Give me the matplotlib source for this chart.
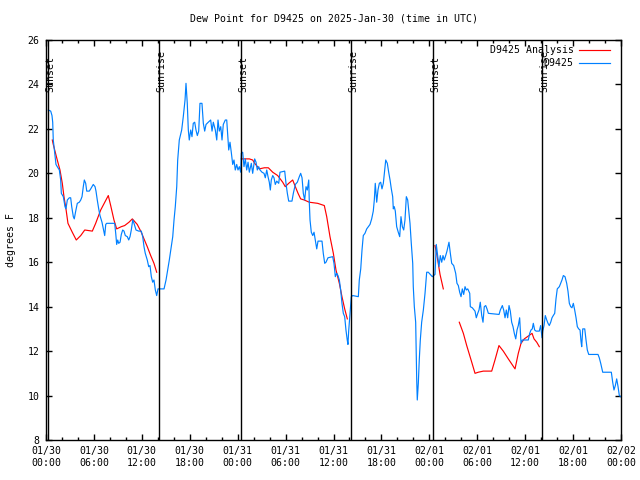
import numpy as np
import matplotlib
matplotlib.use("Agg")
import matplotlib.pyplot as plt
import matplotlib.transforms as mtransforms
from matplotlib.lines import Line2D

# ---------------- data (hours since 01/30 00:00 UTC, degrees F) ----------------
blue_h = [0.29, 0.59, 0.75, 0.84, 0.91, 1.09, 1.25, 1.41, 1.67, 1.84, 1.92, 2.17, 2.38, 2.50, 2.67,
          2.92, 3.09, 3.22, 3.42, 3.54, 3.72, 3.92, 4.17, 4.35, 4.51, 4.67, 4.80, 4.97, 5.10, 5.42,
          5.60, 5.92, 6.14, 6.26, 6.42, 6.60, 6.76, 7.01, 7.18, 7.35, 7.48, 7.60, 8.60, 8.73, 8.85,
          8.98, 9.10, 9.27, 9.43, 9.60, 9.77, 9.93, 10.18, 10.36, 10.52, 10.68, 10.86, 11.02, 11.27,
          11.61, 11.93, 12.11, 12.27, 12.43, 12.68, 12.86, 13.02, 13.19, 13.36, 13.52, 13.69, 13.86,
          14.02, 14.78, 15.03, 15.19, 15.44, 15.69, 15.87, 16.03, 16.19, 16.37, 16.49, 16.69, 16.99,
          17.19, 17.41, 17.53, 17.69, 17.82, 17.94, 18.12, 18.28, 18.44, 18.62, 18.78, 18.95, 19.12,
          19.28, 19.53, 19.70, 19.87, 20.04, 20.32, 20.62, 20.79, 20.95, 21.20, 21.38, 21.54, 21.70,
          21.88, 22.04, 22.20, 22.45, 22.63, 22.79, 22.88, 23.04, 23.20, 23.38, 23.54, 23.70, 23.88,
          24.04, 24.21, 24.38, 24.46, 24.63, 24.79, 24.96, 25.13, 25.30, 25.46, 25.71, 25.88, 26.13,
          26.30, 26.46, 26.63, 26.80, 27.05, 27.30, 27.46, 27.64, 27.80, 27.96, 28.09, 28.21, 28.39,
          28.55, 28.71, 28.89, 29.14, 29.30, 29.89, 30.05, 30.22, 30.39, 30.80, 30.97, 31.22, 31.47,
          31.72, 31.89, 32.06, 32.22, 32.39, 32.56, 32.72, 32.90, 32.97, 33.06, 33.22, 33.40, 33.56,
          33.72, 33.90, 34.06, 34.56, 34.72, 34.90, 35.06, 35.31, 35.90, 36.06, 36.23, 36.40, 36.56,
          36.73, 36.90, 37.06, 37.23, 37.40, 37.56, 37.72, 37.81, 37.90, 38.07, 38.16, 38.23, 38.41,
          39.11, 39.23, 39.41, 39.57, 39.73, 39.94, 40.16, 40.36, 40.57, 40.78, 40.98, 41.11, 41.23,
          41.41, 41.57, 41.74, 41.91, 42.07, 42.24, 42.41, 42.54, 42.74, 42.91, 43.08, 43.24, 43.41,
          43.49, 43.61, 43.74, 43.91, 44.11, 44.29, 44.45, 44.62, 44.79, 44.95, 45.12, 45.29, 45.42,
          45.58, 45.74, 45.92, 45.99, 46.12, 46.29, 46.42, 46.49, 46.62, 46.74, 46.87, 47.04, 47.25,
          47.46, 47.67, 47.87, 48.37, 48.71, 48.87, 49.05, 49.21, 49.37, 49.55, 49.71, 49.87, 50.05,
          50.21, 50.46, 50.63, 50.80, 51.05, 51.30, 51.46, 51.63, 51.80, 51.97, 52.13, 52.30, 52.47,
          52.63, 52.81, 53.06, 53.13, 53.38, 53.72, 53.88, 54.06, 54.22, 54.38, 54.56, 54.72, 54.88,
          55.06, 55.22, 55.39, 56.73, 56.89, 57.14, 57.31, 57.48, 57.64, 57.81, 57.98, 58.14, 58.31,
          58.48, 58.64, 58.82, 58.98, 59.14, 59.31, 59.48, 59.64, 60.39, 60.57, 60.73, 60.89, 61.02,
          61.19, 61.36, 61.77, 61.94, 62.11, 62.20, 62.36, 62.52, 62.70, 62.86, 63.02, 63.20, 63.36,
          63.52, 63.70, 63.86, 64.02, 64.28, 64.45, 64.61, 64.78, 64.99, 65.20, 65.36, 65.53, 65.70,
          65.86, 66.03, 66.20, 66.37, 66.53, 66.70, 66.87, 66.99, 67.08, 67.21, 67.46, 67.62, 67.78,
          67.96, 69.12, 69.28, 69.46, 69.62, 69.71, 70.79, 70.96, 71.12, 71.29, 71.46, 71.63, 71.79,
          71.97]
blue_v = [22.85, 22.8, 22.6, 22.3, 21.5, 20.9, 20.4, 20.3, 20.15, 19.7, 19.1, 18.95, 18.5, 18.4, 18.8,
          18.9, 18.9, 18.5, 18.05, 17.95, 18.3, 18.65, 18.7, 18.8, 18.95, 19.4, 19.7, 19.55, 19.2, 19.2,
          19.3, 19.5, 19.4, 19.2, 18.8, 18.4, 18.1, 17.8, 17.5, 17.2, 17.7, 17.75, 17.75, 17.3, 16.8,
          17.0, 16.85, 16.9, 17.25, 17.45, 17.4, 17.2, 17.15, 17.0, 17.15, 17.45, 17.9, 17.75, 17.45,
          17.4, 17.4, 17.15, 16.7, 16.4, 16.1, 15.8, 15.85, 15.35, 15.1, 15.2, 14.75, 14.5,
          14.8, 14.8, 15.2, 15.55, 16.1, 16.7, 17.15, 17.9, 18.5, 19.4, 20.6, 21.5, 21.95,
          22.55, 23.3, 24.05, 23.15, 21.95, 21.5, 21.95, 21.65, 22.25, 22.3, 21.95, 21.7, 21.9,
          23.15, 23.15, 22.25, 21.9, 22.2, 22.3, 22.4, 21.9, 22.3, 21.95, 21.5, 22.4, 21.9,
          22.1, 21.5, 22.2, 22.4, 22.4, 21.5, 21.05, 21.4, 20.95, 20.4, 20.6, 20.15, 20.4,
          20.15, 20.3, 20.05, 20.9, 20.95, 20.3, 20.65, 20.15, 20.5, 20.05, 20.45, 20.0, 20.65,
          20.5, 20.15, 20.3, 20.15, 20.05, 20.0, 19.8, 20.15, 19.85, 19.6, 19.25, 19.7, 19.9,
          19.8, 19.5, 19.65, 19.55, 20.05, 20.1, 19.55, 19.1, 18.75, 18.75, 19.1, 19.5, 19.6,
          19.85, 20.0, 19.8, 19.1, 18.8, 19.4, 19.25, 19.7, 18.7, 17.9, 17.35, 17.2, 17.35,
          17.0, 16.6, 16.95, 16.95, 16.4, 15.95, 16.0, 16.2, 16.25, 15.95, 15.35, 15.5, 15.4,
          15.2, 14.75, 14.15, 13.7, 13.55, 12.95, 12.5, 12.3, 12.9, 13.7, 14.15, 14.45, 14.5,
          14.45, 15.2, 15.7, 16.55, 17.2, 17.3, 17.5, 17.6, 17.7, 17.95, 18.3, 18.8, 19.55,
          18.7, 19.25, 19.55, 19.6, 19.3, 19.55, 20.15, 20.6, 20.45, 20.05, 19.7, 19.3, 18.95,
          18.4, 18.5, 18.3, 17.6, 17.35, 17.15, 18.05, 17.6, 17.45, 17.9, 18.95, 18.8, 18.35,
          17.75, 16.85, 15.95, 14.9, 14.0, 13.3, 10.7, 9.8, 10.55, 11.6, 12.5, 13.3, 13.85,
          14.6, 15.55, 15.55, 15.35, 15.45, 16.8, 16.25, 15.8, 16.3, 16.0, 16.3, 16.1, 16.3,
          16.5, 16.9, 16.4, 15.95, 15.85, 15.5, 15.05, 14.95, 14.65, 14.45, 14.8, 14.55, 14.9,
          14.75, 14.8, 14.6, 14.0, 13.95, 13.8, 13.5, 13.7, 13.85, 14.2, 13.6, 13.3, 14.0,
          14.05, 13.9, 13.7, 13.65, 13.85, 14.05, 13.85, 13.5, 13.85, 13.5, 14.05, 13.8, 13.3,
          13.1, 12.8, 12.55, 12.95, 13.15, 13.5, 12.35, 12.5, 12.5, 12.8, 12.95, 13.0, 13.25,
          12.95, 12.9, 12.9, 13.15, 12.6, 12.9, 13.15, 13.6, 13.4, 13.25, 13.15, 13.3, 13.5,
          13.6, 13.7, 14.35, 14.8, 14.9, 15.05, 15.2, 15.4, 15.35, 15.05, 14.7, 14.15, 14.0,
          13.95, 14.15, 13.85, 13.5, 13.1, 13.0, 12.95, 12.45, 12.2, 13.0, 13.0, 12.5, 12.05,
          11.85, 11.85, 11.7, 11.45, 11.2, 11.05, 11.05, 10.6, 10.25, 10.45, 10.75, 10.4, 10.0,
          9.95]

nan = float("nan")
red_h = [0.79, 0.91, 1.16, 1.41, 1.75, 2.04, 2.25, 2.50, 2.75, 3.29, 3.79, 4.35, 4.85, 5.80, 6.22,
         6.85, 7.80, 8.10, 8.51, 8.85, 9.43, 9.85, 10.39, 10.81, 11.43, 11.93, 12.27, 12.68, 13.11,
         13.52, 13.86, nan,
         24.45, 25.46, 25.88, 26.13, 26.71, 27.34, 27.84, 28.39, 29.01, 29.64, 29.96, 30.39, 30.89,
         31.22, 31.56, 31.89, 32.34, 32.97, 34.02, 34.85, 35.15, 35.56, 35.98, 36.31, 36.73, 37.06,
         37.40, 37.73, nan,
         48.71, 48.96, 49.34, 49.75, nan,
         51.75, 52.26, 52.68, 53.31, 53.72, 54.13, 54.76, 55.81, 56.22, 56.72, 57.26, 57.89, 58.73,
         59.14, 59.48, 59.89, 60.48, 60.86, 61.11, 61.45, 61.77]
red_v = [21.5, 21.3, 20.95, 20.6, 20.15, 19.55, 18.95, 18.4, 17.75, 17.35, 17.0, 17.2, 17.45, 17.4, 17.75,
         18.35, 19.0, 18.55, 17.9, 17.5, 17.6, 17.65, 17.8, 17.95, 17.7, 17.35, 17.05, 16.7, 16.3,
         15.95, 15.55, nan,
         20.65, 20.65, 20.6, 20.45, 20.2, 20.25, 20.25, 20.05, 19.9, 19.6, 19.4, 19.55, 19.7,
         19.4, 19.1, 18.85, 18.8, 18.7, 18.65, 18.55, 18.05, 17.15, 16.4, 15.65, 15.05, 14.45,
         13.9, 13.45, nan,
         16.75, 16.3, 15.45, 14.8, nan,
         13.3, 12.8, 12.25, 11.5, 11.0, 11.05, 11.1, 11.1, 11.6, 12.25, 12.0, 11.65, 11.2,
         11.9, 12.35, 12.55, 12.7, 12.8, 12.55, 12.4, 12.2]

sun_h = [0.26, 14.16, 24.43, 38.23, 48.50, 62.13]
sun_labels = ["Sunset", "Sunrise", "Sunset", "Sunrise", "Sunset", "Sunrise"]

xtick_h = [0, 6, 12, 18, 24, 30, 36, 42, 48, 54, 60, 66, 72]
xtick_labels = ["01/30\n00:00", "01/30\n06:00", "01/30\n12:00", "01/30\n18:00",
                "01/31\n00:00", "01/31\n06:00", "01/31\n12:00", "01/31\n18:00",
                "02/01\n00:00", "02/01\n06:00", "02/01\n12:00", "02/01\n18:00",
                "02/02\n00:00"]
yticks = [8, 10, 12, 14, 16, 18, 20, 22, 24, 26]

title = "Dew Point for D9425 on 2025-Jan-30 (time in UTC)"
ylabel = "degrees F"
legend_labels = ["D9425 Analysis", "D9425"]

# ---------------- drawing ----------------
FONT = "DejaVu Sans Mono"
FS = 7.1
plt.rcParams["font.family"] = [FONT]
plt.rcParams["font.size"] = FS

fig = plt.figure(figsize=(6.4, 4.8), dpi=100)
ax = fig.add_axes([46 / 640, 40 / 480, 575 / 640, 400 / 480])

ax.plot(red_h, red_v, color="#ff0000", lw=0.85)
ax.plot(blue_h, blue_v, color="#0080ff", lw=0.85)

for h, lab in zip(sun_h, sun_labels):
    ax.axvline(h, color="black", lw=1.0)
    tr = mtransforms.offset_copy(ax.transData, fig=fig, x=2.5, y=0, units="dots")
    ax.text(h, 23.66, lab, rotation=90, ha="center", va="bottom",
            transform=tr, fontsize=FS, color="black")

ax.set_xlim(0, 72)
ax.set_ylim(8, 26)
ax.set_xticks(xtick_h)
ax.set_xticklabels(xtick_labels)
ax.set_xticks(np.arange(0, 73, 2), minor=True)
ax.set_yticks(yticks)
ax.set_yticklabels([str(v) for v in yticks])
ax.tick_params(which="major", direction="in", length=4.5, width=1, top=True, right=True,
               labelsize=FS, pad=4.5)
ax.tick_params(which="minor", direction="in", length=2.2, width=1, top=True, right=True)
for s in ax.spines.values():
    s.set_linewidth(1.0)

ax.set_title(title, fontsize=FS, pad=13)
ax.set_ylabel(ylabel, fontsize=FS, labelpad=8.5)

handles = [Line2D([], [], color="#ff0000", lw=0.85), Line2D([], [], color="#0080ff", lw=0.85)]
ax.legend(handles, legend_labels, loc="upper right", frameon=False, markerfirst=False,
          handlelength=3.1, handletextpad=0.6, labelspacing=0.35, fontsize=FS,
          borderaxespad=0.0, borderpad=0.0,
          bbox_to_anchor=(1 - 11 / 575, 1 - 5 / 400))

fig.savefig("out.png", dpi=100)
